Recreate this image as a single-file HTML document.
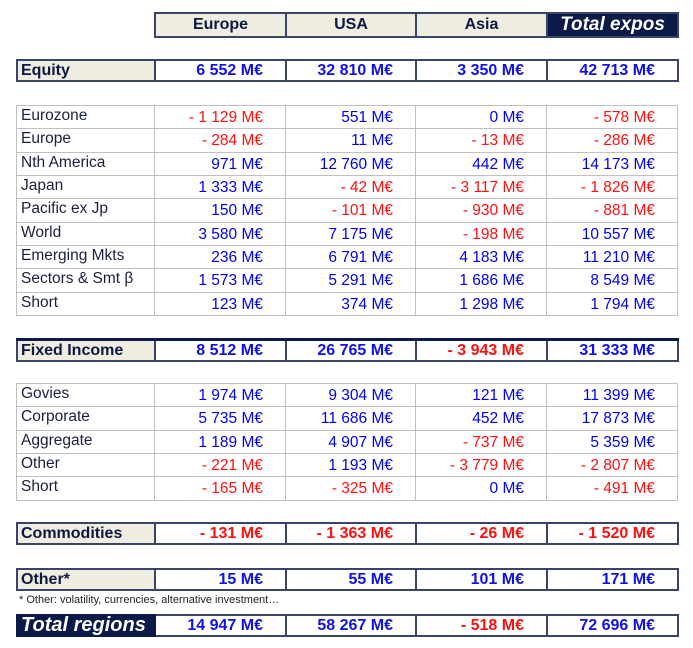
<!DOCTYPE html>
<html><head><meta charset="utf-8"><style>
body{margin:0;width:693px;height:648px;background:#fff;font-family:"Liberation Sans",Arial,sans-serif;position:relative;overflow:hidden}
table{position:absolute;border-collapse:collapse;table-layout:fixed}
td{padding:0;font-size:15px;white-space:nowrap;overflow:hidden}
.s td{border:2px solid #3a4466;height:19px;line-height:19px;font-weight:bold;font-size:16px}
.s td.l{background:#efece1;color:#0d1a40;padding-left:3px;text-align:left}
.d tr{height:23.33px}
.d td{border:1px solid #c0c0c0;color:#0000f0;text-align:right;padding-right:22px;vertical-align:top;line-height:21px;font-size:15.5px;padding-top:1px}
.d td.l{color:#1a2040;text-align:left;padding-left:4px;padding-right:0;line-height:20px;padding-top:0}
.s td{text-align:right;padding-right:22px;color:#1010e8}
.s td.l{padding-right:0}
.r{color:#ff1010 !important}
.h td{border:2px solid #3a4466;background:#efece1;color:#0d1a40;font-weight:bold;text-align:center;font-size:16px;height:20px}
.dk{background:#0b1a46 !important;color:#fff !important;font-style:italic;font-size:19px !important}
.note{position:absolute;left:19px;top:594px;font-size:11px;color:#222}
</style></head><body>
<table class="h" style="left:154px;top:12px;width:523px"><colgroup><col style="width:131px"><col style="width:130px"><col style="width:131px"><col style="width:131px"></colgroup>
<tr><td>Europe</td><td>USA</td><td>Asia</td><td class="dk">Total expos</td></tr></table>

<table class="s" style="left:16px;top:59px;width:661px"><colgroup><col style="width:138px"><col style="width:131px"><col style="width:130px"><col style="width:131px"><col style="width:131px"></colgroup>
<tr><td class="l">Equity</td><td>6 552 M€</td><td>32 810 M€</td><td>3 350 M€</td><td>42 713 M€</td></tr></table>

<table class="d" style="left:16px;top:105px;width:661px"><colgroup><col style="width:138px"><col style="width:131px"><col style="width:130px"><col style="width:131px"><col style="width:131px"></colgroup>
<tr><td class="l">Eurozone</td><td class="r">- 1 129 M€</td><td>551 M€</td><td>0 M€</td><td class="r">- 578 M€</td></tr>
<tr><td class="l">Europe</td><td class="r">- 284 M€</td><td>11 M€</td><td class="r">- 13 M€</td><td class="r">- 286 M€</td></tr>
<tr><td class="l">Nth America</td><td>971 M€</td><td>12 760 M€</td><td>442 M€</td><td>14 173 M€</td></tr>
<tr><td class="l">Japan</td><td>1 333 M€</td><td class="r">- 42 M€</td><td class="r">- 3 117 M€</td><td class="r">- 1 826 M€</td></tr>
<tr><td class="l">Pacific ex Jp</td><td>150 M€</td><td class="r">- 101 M€</td><td class="r">- 930 M€</td><td class="r">- 881 M€</td></tr>
<tr><td class="l">World</td><td>3 580 M€</td><td>7 175 M€</td><td class="r">- 198 M€</td><td>10 557 M€</td></tr>
<tr><td class="l">Emerging Mkts</td><td>236 M€</td><td>6 791 M€</td><td>4 183 M€</td><td>11 210 M€</td></tr>
<tr><td class="l">Sectors &amp; Smt β</td><td>1 573 M€</td><td>5 291 M€</td><td>1 686 M€</td><td>8 549 M€</td></tr>
<tr><td class="l">Short</td><td>123 M€</td><td>374 M€</td><td>1 298 M€</td><td>1 794 M€</td></tr></table>

<table class="s" style="left:16px;top:338px;width:661px;border-top:3px solid #0b1a46"><colgroup><col style="width:138px"><col style="width:131px"><col style="width:130px"><col style="width:131px"><col style="width:131px"></colgroup>
<tr><td class="l">Fixed Income</td><td>8 512 M€</td><td>26 765 M€</td><td class="r">- 3 943 M€</td><td>31 333 M€</td></tr></table>

<table class="d" style="left:16px;top:383px;width:661px"><colgroup><col style="width:138px"><col style="width:131px"><col style="width:130px"><col style="width:131px"><col style="width:131px"></colgroup>
<tr><td class="l">Govies</td><td>1 974 M€</td><td>9 304 M€</td><td>121 M€</td><td>11 399 M€</td></tr>
<tr><td class="l">Corporate</td><td>5 735 M€</td><td>11 686 M€</td><td>452 M€</td><td>17 873 M€</td></tr>
<tr><td class="l">Aggregate</td><td>1 189 M€</td><td>4 907 M€</td><td class="r">- 737 M€</td><td>5 359 M€</td></tr>
<tr><td class="l">Other</td><td class="r">- 221 M€</td><td>1 193 M€</td><td class="r">- 3 779 M€</td><td class="r">- 2 807 M€</td></tr>
<tr><td class="l">Short</td><td class="r">- 165 M€</td><td class="r">- 325 M€</td><td>0 M€</td><td class="r">- 491 M€</td></tr></table>

<table class="s" style="left:16px;top:522px;width:661px"><colgroup><col style="width:138px"><col style="width:131px"><col style="width:130px"><col style="width:131px"><col style="width:131px"></colgroup>
<tr><td class="l">Commodities</td><td class="r">- 131 M€</td><td class="r">- 1 363 M€</td><td class="r">- 26 M€</td><td class="r">- 1 520 M€</td></tr></table>

<table class="s" style="left:16px;top:568px;width:661px"><colgroup><col style="width:138px"><col style="width:131px"><col style="width:130px"><col style="width:131px"><col style="width:131px"></colgroup>
<tr><td class="l">Other*</td><td>15 M€</td><td>55 M€</td><td>101 M€</td><td>171 M€</td></tr></table>
<div class="note">* Other: volatility, currencies, alternative investment…</div>

<table class="s" style="left:16px;top:614px;width:661px"><colgroup><col style="width:138px"><col style="width:131px"><col style="width:130px"><col style="width:131px"><col style="width:131px"></colgroup>
<tr><td class="l dk" style="border-color:#0b1a46;font-size:20px !important">Total regions</td><td>14 947 M€</td><td>58 267 M€</td><td class="r">- 518 M€</td><td>72 696 M€</td></tr></table>
</body></html>
